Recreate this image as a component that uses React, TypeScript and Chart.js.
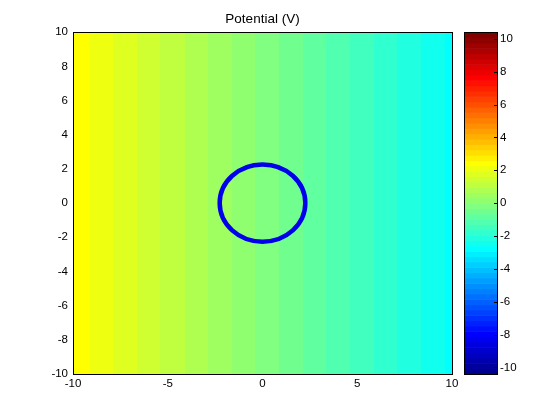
import React, { useEffect, useRef } from "react";
import { Chart, registerables } from "chart.js";

Chart.register(...registerables);

// ---- data ----
const xGrid = [-10, -9, -8, -7, -6, -5, -4, -3, -2, -1, 0, 1, 2, 3, 4, 5, 6, 7, 8, 9, 10];
const potential = [2.5, 2.25, 1.98, 1.72, 1.46, 1.2, 0.95, 0.68, 0.42, 0.16, -0.1, -0.36, -0.62, -0.88, -1.14, -1.4, -1.66, -1.92, -2.18, -2.44, -2.7];
const xTicks = [-10, -5, 0, 5, 10];
const yTicks = [-10, -8, -6, -4, -2, 0, 2, 4, 6, 8, 10];
const cbTicks = [-10, -8, -6, -4, -2, 0, 2, 4, 6, 8, 10];
const cbMin = -10.4;
const cbMax = 10.4;
const circleCenter = { x: 0, y: 0 };
const circleRadius = 2.26;
const titleText = "Potential (V)";

const FONT = "'Liberation Sans', Arial, Helvetica, sans-serif";

// MATLAB jet(m) colormap
function jetMap(m: number): number[][] {
  const n = Math.ceil(m / 4);
  const u: number[] = [];
  for (let i = 1; i <= n; i++) u.push(i / n);
  for (let i = 1; i <= n - 1; i++) u.push(1);
  for (let i = n; i >= 1; i--) u.push(i / n);
  const J = Array.from({ length: m }, () => [0, 0, 0]);
  const gOff = Math.ceil(n / 2) - (m % 4 === 1 ? 1 : 0);
  for (let j = 0; j < u.length; j++) {
    const g = gOff + j + 1;
    const r = g + n;
    const b = g - n;
    if (r >= 1 && r <= m) J[r - 1][0] = u[j];
    if (g >= 1 && g <= m) J[g - 1][1] = u[j];
    if (b >= 1 && b <= m) J[b - 1][2] = u[j];
  }
  return J;
}
const JET = jetMap(64);
function jetCss(i: number) {
  const c = JET[Math.max(0, Math.min(63, i))];
  return `rgb(${Math.round(c[0] * 255)},${Math.round(c[1] * 255)},${Math.round(c[2] * 255)})`;
}
function colorFor(v: number) {
  const idx = Math.floor(((v - cbMin) / (cbMax - cbMin)) * 64);
  return jetCss(idx);
}
function valueAt(x: number) {
  if (x <= xGrid[0]) return potential[0];
  for (let i = 0; i < xGrid.length - 1; i++) {
    if (x <= xGrid[i + 1]) {
      const t = (x - xGrid[i]) / (xGrid[i + 1] - xGrid[i]);
      return potential[i] + t * (potential[i + 1] - potential[i]);
    }
  }
  return potential[potential.length - 1];
}

const fieldPlugin = {
  id: "field",
  beforeDatasetsDraw(chart: any) {
    const { ctx, chartArea: a, scales } = chart;
    const xs = scales.x;
    const cb = scales.cb;
    ctx.save();
    // heat field
    for (let px = Math.floor(a.left); px < Math.ceil(a.right); px++) {
      const xv = xs.getValueForPixel(px + 0.5);
      ctx.fillStyle = colorFor(valueAt(xv));
      ctx.fillRect(px, a.top, 1, a.bottom - a.top);
    }
    // colorbar
    const cbLeft = a.right + 12;
    const cbW = 33;
    const d = (cbMax - cbMin) / 64;
    for (let i = 0; i < 64; i++) {
      const y0 = cb.getPixelForValue(cbMin + i * d);
      const y1 = cb.getPixelForValue(cbMin + (i + 1) * d);
      ctx.fillStyle = jetCss(i);
      ctx.fillRect(cbLeft, Math.min(y0, y1), cbW, Math.abs(y0 - y1) + 0.6);
    }
    ctx.strokeStyle = "#000";
    ctx.lineWidth = 1;
    ctx.strokeRect(cbLeft + 0.5, Math.round(cb.top) + 0.5, cbW, Math.round(cb.bottom - cb.top));
    // colorbar ticks (inside, right edge)
    ctx.beginPath();
    for (const t of cbTicks) {
      const y = Math.round(cb.getPixelForValue(t)) + 0.5;
      ctx.moveTo(cbLeft + cbW + 0.5, y);
      ctx.lineTo(cbLeft + cbW - 3, y);
    }
    ctx.stroke();
    ctx.restore();
  },
  afterDatasetsDraw(chart: any) {
    const { ctx, chartArea: a, scales } = chart;
    const xs = scales.x;
    const ys = scales.y;
    ctx.save();
    const cx = xs.getPixelForValue(circleCenter.x);
    const cy = ys.getPixelForValue(circleCenter.y);
    const rx = Math.abs(xs.getPixelForValue(circleCenter.x + circleRadius) - cx);
    const ry = Math.abs(ys.getPixelForValue(circleCenter.y + circleRadius) - cy);
    ctx.beginPath();
    ctx.ellipse(cx, cy, rx, ry, 0, 0, Math.PI * 2);
    ctx.strokeStyle = "rgb(0,0,235)";
    ctx.lineWidth = 4.5;
    ctx.stroke();
    // axes frame
    ctx.strokeStyle = "#000";
    ctx.lineWidth = 1;
    ctx.strokeRect(Math.round(a.left) + 0.5, Math.round(a.top) + 0.5, Math.round(a.right - a.left), Math.round(a.bottom - a.top));
    ctx.restore();
  },
};

export default function App() {
  const ref = useRef<HTMLCanvasElement | null>(null);
  useEffect(() => {
    if (!ref.current) return;
    const tickFont = { family: FONT, size: 11.5 };
    const chart = new Chart(ref.current, {
      type: "scatter",
      data: { datasets: [{ data: [], pointRadius: 0 }] },
      options: {
        animation: false,
        responsive: false,
        devicePixelRatio: 1,
        events: [],
        layout: { padding: 0 },
        plugins: {
          legend: { display: false },
          tooltip: { enabled: false },
          title: {
            display: true,
            text: titleText,
            fullSize: false,
            color: "#000",
            font: { family: FONT, size: 13.5, weight: "normal" },
            padding: { top: 11, bottom: 5 },
          },
        },
        scales: {
          x: {
            type: "linear",
            position: "bottom",
            min: -10,
            max: 10,
            afterBuildTicks: (s: any) => {
              s.ticks = xTicks.map((v) => ({ value: v }));
            },
            afterFit: (s: any) => {
              s.height = 46;
            },
            grid: { display: false, drawTicks: true, tickLength: 3 },
            border: { display: false },
            ticks: {
              color: "#000",
              font: tickFont,
              padding: 0,
              maxRotation: 0,
              autoSkip: false,
              callback: (v: any) => String(v),
            },
          },
          y: {
            type: "linear",
            position: "left",
            min: -10,
            max: 10,
            afterBuildTicks: (s: any) => {
              s.ticks = yTicks.map((v) => ({ value: v }));
            },
            afterFit: (s: any) => {
              s.width = 73;
            },
            grid: { display: false, drawTicks: true, tickLength: 5 },
            border: { display: false },
            ticks: {
              color: "#000",
              font: tickFont,
              padding: 0,
              autoSkip: false,
              callback: (v: any) => String(v),
            },
          },
          cb: {
            type: "linear",
            axis: "y",
            position: "right",
            min: cbMin,
            max: cbMax,
            afterBuildTicks: (s: any) => {
              s.ticks = cbTicks.map((v) => ({ value: v }));
            },
            afterFit: (s: any) => {
              s.width = 108;
            },
            grid: { display: false, drawTicks: true, tickLength: 48 },
            border: { display: false },
            ticks: {
              color: "#000",
              font: tickFont,
              padding: 0,
              autoSkip: false,
              callback: (v: any) => String(v),
            },
          },
        },
      } as any,
      plugins: [fieldPlugin],
    });
    return () => chart.destroy();
  }, []);
  return (
    <div style={{ position: "absolute", left: 0, top: 0, width: 560, height: 420, background: "#fff" }}>
      <canvas ref={ref} width={560} height={420} />
    </div>
  );
}
